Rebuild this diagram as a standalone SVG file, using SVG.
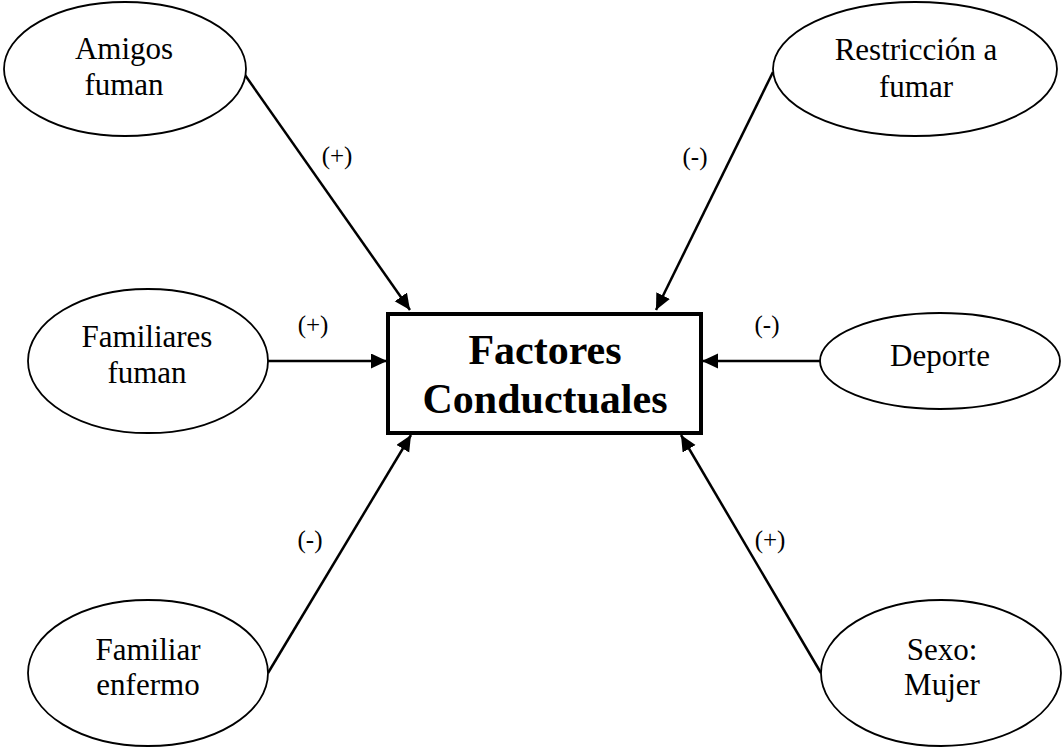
<svg xmlns="http://www.w3.org/2000/svg" width="1063" height="748" viewBox="0 0 1063 748">
<style>
.n{fill:#fff;stroke:#000;stroke-width:1.8}
.t{font-family:"Liberation Serif","Times New Roman",serif;font-size:31px;text-anchor:middle;fill:#000}
.l{font-family:"Liberation Serif","Times New Roman",serif;font-size:25px;text-anchor:middle;fill:#000}
.b{font-family:"Liberation Serif","Times New Roman",serif;font-size:42px;font-weight:bold;text-anchor:middle;fill:#000}
.c{stroke:#000;stroke-width:2.5;fill:none;marker-end:url(#ah)}
</style>
<defs>
<marker id="ah" markerUnits="userSpaceOnUse" markerWidth="17" markerHeight="16" refX="16" refY="7.5" orient="auto">
<path d="M0,0 L16,7.5 L0,15 z" fill="#000"/>
</marker>
</defs>
<rect width="1063" height="748" fill="#fff"/>
<g id="connectors">
<line class="c" x1="245" y1="75" x2="410" y2="310"/>
<line class="c" x1="773" y1="72" x2="656" y2="310"/>
<line class="c" x1="268" y1="361" x2="387" y2="361"/>
<line class="c" x1="820" y1="361" x2="702" y2="361"/>
<line class="c" x1="268" y1="673" x2="411" y2="435"/>
<line class="c" x1="821" y1="673" x2="681" y2="435"/>
<text class="l" x="337" y="164">(+)</text>
<text class="l" x="695" y="165">(-)</text>
<text class="l" x="313" y="333">(+)</text>
<text class="l" x="767" y="333">(-)</text>
<text class="l" x="310" y="548">(-)</text>
<text class="l" x="770" y="548">(+)</text>
</g>
<g id="center">
<rect x="388" y="314" width="313" height="119" fill="#fff" stroke="#000" stroke-width="4"/>
<text class="b" x="545" y="364">Factores</text>
<text class="b" x="545" y="413">Conductuales</text>
</g>
<g id="amigos">
<ellipse class="n" cx="125" cy="69" rx="121" ry="67"/>
<text class="t" x="124" y="59">Amigos</text>
<text class="t" x="124" y="95">fuman</text>
</g>
<g id="restriccion">
<ellipse class="n" cx="915" cy="69" rx="142" ry="67"/>
<text class="t" x="916" y="60">Restricción a</text>
<text class="t" x="916" y="97">fumar</text>
</g>
<g id="familiares">
<ellipse class="n" cx="148" cy="361" rx="120" ry="72"/>
<text class="t" x="147" y="347">Familiares</text>
<text class="t" x="147" y="383">fuman</text>
</g>
<g id="deporte">
<ellipse class="n" cx="940" cy="361" rx="120" ry="48"/>
<text class="t" x="940" y="366">Deporte</text>
</g>
<g id="familiar-enfermo">
<ellipse class="n" cx="148" cy="673" rx="120" ry="73"/>
<text class="t" x="148" y="660">Familiar</text>
<text class="t" x="148" y="695">enfermo</text>
</g>
<g id="sexo">
<ellipse class="n" cx="941" cy="673" rx="120" ry="73"/>
<text class="t" x="942" y="660">Sexo:</text>
<text class="t" x="942" y="695">Mujer</text>
</g>
</svg>
